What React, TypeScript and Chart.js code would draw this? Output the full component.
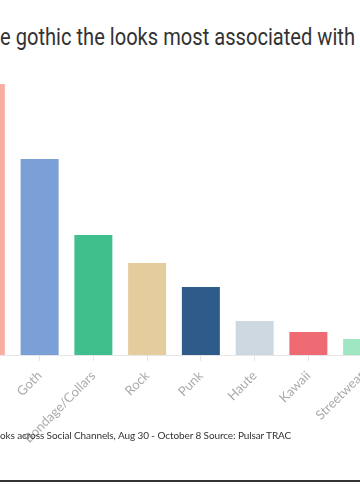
import React, { useEffect, useRef } from "react";
import { Chart, registerables } from "chart.js";

Chart.register(...registerables);

const categories = ["Victorian", "Goth", "Bondage/Collars", "Rock", "Punk", "Haute", "Kawaii", "Streetwear"];
const mentions = [27200, 19700, 12100, 9300, 6900, 3500, 2400, 1700];
const barColors = ["#F8AFA1", "#7B9FD7", "#40BF8C", "#E5CC9D", "#2E5B89", "#CDD8E1", "#EF6B73", "#9FE6C3"];
const titleText = "e gothic the looks most associated with";
const footnoteText = "oks across Social Channels, Aug 30 - October 8 Source: Pulsar TRAC";

export default function App() {
  const canvasRef = useRef<HTMLCanvasElement | null>(null);
  const titleRef = useRef<HTMLSpanElement | null>(null);

  useEffect(() => {
    document.body.style.margin = "0";
    const t = titleRef.current;
    if (t) {
      const w = t.getBoundingClientRect().width;
      if (w > 0) t.style.transform = `scaleX(${355 / w})`;
    }
    const canvas = canvasRef.current;
    if (!canvas) return;
    const chart = new Chart(canvas, {
      type: "bar",
      data: {
        labels: categories,
        datasets: [
          {
            data: mentions,
            backgroundColor: barColors,
            borderColor: "rgba(255,255,255,0.45)",
            borderWidth: 1,
            barPercentage: 0.93,
            categoryPercentage: 0.8,
          },
        ],
      },
      options: {
        responsive: false,
        animation: false,
        devicePixelRatio: 1,
        layout: { padding: 0 },
        plugins: {
          legend: { display: false },
          title: { display: false },
          tooltip: { enabled: false },
        },
        scales: {
          x: {
            offset: true,
            grid: {
              offset: false,
              drawOnChartArea: false,
              drawTicks: true,
              tickLength: 6,
              color: "#e6e6e6",
            },
            border: { display: true, color: "#e6e6e6", width: 1 },
            ticks: {
              maxRotation: 45,
              minRotation: 45,
              autoSkip: false,
              color: "#aaaaaa",
              padding: 7,
              font: { family: "Lato", size: 13 },
            },
            afterFit: (scale: any) => {
              scale.height = 90;
              scale.paddingLeft = 0;
              scale.paddingRight = 0;
            },
          },
          y: {
            display: false,
            min: 0,
            max: 30000,
          },
        },
      },
    });
    return () => chart.destroy();
  }, []);

  return (
    <div
      style={{
        position: "relative",
        width: 360,
        height: 500,
        overflow: "hidden",
        background: "#ffffff",
        fontFamily: "Lato, sans-serif",
      }}
    >
      <canvas
        ref={canvasRef}
        width={430}
        height={390}
        style={{ position: "absolute", left: -41, top: 55, width: 430, height: 390 }}
      />
      <div
        style={{
          position: "absolute",
          left: 0,
          top: 24,
          fontFamily: "Roboto, sans-serif",
          fontSize: 23,
          color: "#333333",
          whiteSpace: "nowrap",
        }}
      >
        <span
          ref={titleRef}
          style={{ display: "inline-block", transformOrigin: "0 0" }}
        >
          {titleText}
        </span>
      </div>
      <div
        style={{
          position: "absolute",
          left: 0,
          top: 429,
          fontSize: 10,
          color: "#333333",
          whiteSpace: "nowrap",
          letterSpacing: -0.1,
        }}
      >
        {footnoteText}
      </div>
      <div
        style={{
          position: "absolute",
          left: 0,
          top: 480,
          width: 360,
          height: 1.5,
          background: "#333333",
        }}
      />
    </div>
  );
}
